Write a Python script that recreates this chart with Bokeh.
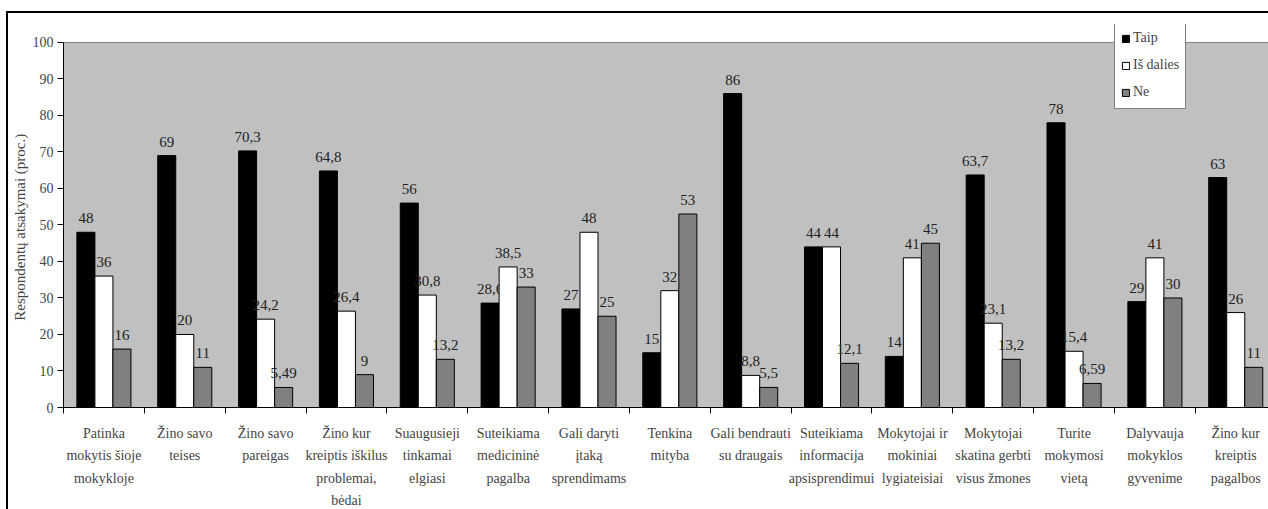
from bokeh.plotting import figure
from bokeh.models import (ColumnDataSource, Range1d, FixedTicker, Legend, LegendItem)
from bokeh.core.properties import value
from bokeh.embed import file_html
from bokeh.resources import INLINE

categories = [
    "Patinka\nmokytis šioje\nmokykloje",
    "Žino savo\nteises",
    "Žino savo\npareigas",
    "Žino kur\nkreiptis iškilus\nproblemai,\nbėdai",
    "Suaugusieji\ntinkamai\nelgiasi",
    "Suteikiama\nmedicininė\npagalba",
    "Gali daryti\nįtaką\nsprendimams",
    "Tenkina\nmityba",
    "Gali bendrauti\nsu draugais",
    "Suteikiama\ninformacija\napsisprendimui",
    "Mokytojai ir\nmokiniai\nlygiateisiai",
    "Mokytojai\nskatina gerbti\nvisus žmones",
    "Turite\nmokymosi\nvietą",
    "Dalyvauja\nmokyklos\ngyvenime",
    "Žino kur\nkreiptis\npagalbos",
]
taip = [48, 69, 70.3, 64.8, 56, 28.6, 27, 15, 86, 44, 14, 63.7, 78, 29, 63]
is_dalies = [36, 20, 24.2, 26.4, 30.8, 38.5, 48, 32, 8.8, 44, 41, 23.1, 15.4, 41, 26]
ne = [16, 11, 5.49, 9, 13.2, 33, 25, 53, 5.5, 12.1, 45, 13.2, 6.59, 30, 11]
series_names = ["Taip", "Iš dalies", "Ne"]
series_colors = ["#000000", "#ffffff", "#808080"]
y_ticks = list(range(0, 101, 10))
y_label = "Respondentų atsakymai (proc.)"

FONT = "'Liberation Serif', 'Times New Roman', serif"

p = figure(width=1262, height=498, output_backend="svg", toolbar_location=None,
           x_range=Range1d(0, 14.93), y_range=Range1d(0, 104.92),
           min_border_left=55, min_border_top=11, min_border_right=0, min_border_bottom=101)
p.styles = {"border-top": "2px solid black", "border-left": "2px solid black",
            "margin-top": "11px", "margin-left": "6px", "box-sizing": "border-box"}
p.background_fill_color = "white"
p.border_fill_color = "white"
p.outline_line_color = None

n = len(categories)
# gray plot area (0..100)
p.quad(left=[0], right=[14.93], bottom=[0], top=[100], fill_color="#c0c0c0",
       line_color=None)
p.segment(x0=[0], x1=[14.93], y0=[100], y1=[100], line_color="#808080", line_width=1)

bw = 0.223
offsets = [-bw, 0.0, bw]
all_series = [taip, is_dalies, ne]

# grid
p.xgrid.grid_line_color = None
p.ygrid.ticker = FixedTicker(ticks=y_ticks[1:-1])
p.ygrid.grid_line_color = "black"
p.ygrid.grid_line_width = 1
p.ygrid.level = "image"

renderers = []
for vals, off, col, name in zip(all_series, offsets, series_colors, series_names):
    xs = [i + 0.5 + off for i in range(len(vals))]
    labels = [("%g" % v).replace(".", ",") for v in vals]
    src = ColumnDataSource(dict(x=xs, top=vals, lab=labels))
    r = p.vbar(x="x", top="top", width=bw, source=src, fill_color=col,
               line_color="black", line_width=1)
    renderers.append(r)
    p.text(x="x", y="top", text="lab", source=src, text_font=value(FONT),
           text_font_size="15px", text_align="center", text_baseline="alphabetic",
           y_offset=-14, text_color="#222222")

# y axis
p.yaxis.ticker = FixedTicker(ticks=y_ticks)
p.yaxis.bounds = (0, 100)
p.yaxis.axis_label = y_label + "\u00a0" * 6
p.yaxis.axis_label_text_font = FONT
p.yaxis.axis_label_text_font_style = "normal"
p.yaxis.axis_label_text_font_size = "15px"
p.yaxis.axis_label_standoff = 2
p.yaxis.major_label_text_font = FONT
p.yaxis.major_label_text_font_size = "14px"
p.yaxis.major_label_standoff = 4
p.yaxis.major_tick_out = 6
p.yaxis.major_tick_in = 0
p.yaxis.minor_tick_line_color = None
p.yaxis.axis_line_color = "black"
p.yaxis.major_tick_line_color = "black"

# x axis
centers = [i + 0.5 for i in range(n)]
p.xaxis.ticker = FixedTicker(ticks=centers, minor_ticks=list(range(0, n + 1)))
p.xaxis.major_label_overrides = {c: lab for c, lab in zip(centers, categories)}
p.xaxis.major_tick_line_color = None
p.xaxis.minor_tick_line_color = "black"
p.xaxis.minor_tick_out = 6
p.xaxis.minor_tick_in = 0
p.xaxis.major_label_text_font = FONT
p.xaxis.major_label_text_font_size = "14px"
p.xaxis.major_label_text_line_height = 1.5
p.xaxis.major_label_standoff = 12
p.xaxis.axis_line_color = "black"

legend = Legend(items=[LegendItem(label=nm, renderers=[r]) for nm, r in zip(series_names, renderers)],
                location=(1051, 298))
legend.label_text_font = FONT
legend.label_text_font_size = "14px"
legend.glyph_width = 9
legend.glyph_height = 9
legend.label_standoff = 3
legend.label_height = 20
legend.spacing = 7
legend.padding = 6
legend.margin = 0
legend.border_line_color = "black"
legend.border_line_width = 1
legend.background_fill_color = "white"
legend.background_fill_alpha = 1
p.add_layout(legend, "center")

open("out.html", "w").write(file_html(p, INLINE))
